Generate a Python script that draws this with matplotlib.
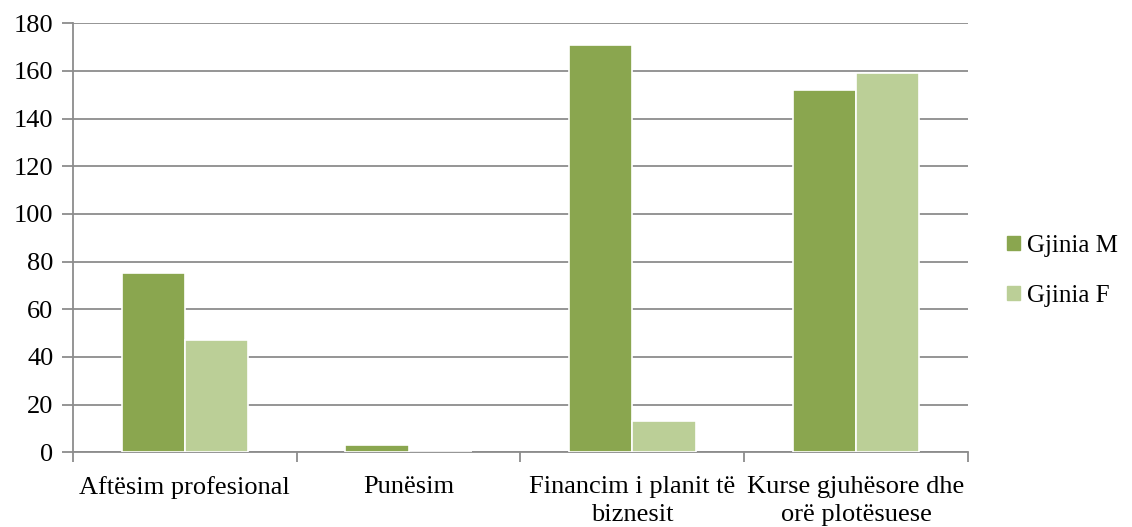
import matplotlib
matplotlib.use('Agg')
import matplotlib.pyplot as plt
import numpy as np
from matplotlib.patches import Patch

categories = ['Aftësim profesional', 'Punësim', 'Financim i planit të\nbiznesit',
              'Kurse gjuhësore dhe\norë plotësuese']
gjinia_m = [75, 3, 171, 152]
gjinia_f = [47, 0, 13, 159]
series_names = ['Gjinia M', 'Gjinia F']

col_m = '#8aa64f'
col_f = '#bbcf97'
grid_col = '#8c8c8c'

plt.rcParams['font.family'] = ['Liberation Serif', 'DejaVu Serif']
plt.rcParams['font.size'] = 19

fig = plt.figure(figsize=(11.32, 5.27), dpi=100)
ax = fig.add_axes([0.0645, 0.142, 0.7905, 0.814])

x = np.arange(len(categories))
w = 0.283
ax.bar(x - w / 2, gjinia_m, w, color=col_m, edgecolor='white', linewidth=1.2, zorder=3)
ax.bar(x + w / 2, gjinia_f, w, color=col_f, edgecolor='white', linewidth=1.2, zorder=3)

ax.set_xlim(-0.5, len(categories) - 0.5)
ax.set_ylim(0, 180)
ax.set_yticks(range(0, 181, 20))
ax.yaxis.grid(True, color=grid_col, linewidth=1.3, zorder=0)
ax.set_axisbelow(True)

for s in ['top', 'right']:
    ax.spines[s].set_visible(False)
for s in ['left', 'bottom']:
    ax.spines[s].set_color(grid_col)
    ax.spines[s].set_linewidth(1.3)

ax.set_xticks(x)
ax.set_xticklabels(categories, linespacing=1.35)
ax.tick_params(axis='x', length=0, pad=17)
ax.set_xticks(np.arange(-0.5, len(categories)), minor=True)
ax.tick_params(axis='x', which='minor', length=7, width=1.3, color=grid_col)
ax.tick_params(axis='y', length=8, width=1.3, color=grid_col, pad=6)

handles = [Patch(color=col_m), Patch(color=col_f)]
fig.legend(handles, series_names, loc='center left', bbox_to_anchor=(0.87, 0.486),
           frameon=False, handlelength=0.5, handleheight=0.5, handletextpad=0.3,
           labelspacing=1.1, fontsize=18)

fig.savefig('out.png', dpi=100)
